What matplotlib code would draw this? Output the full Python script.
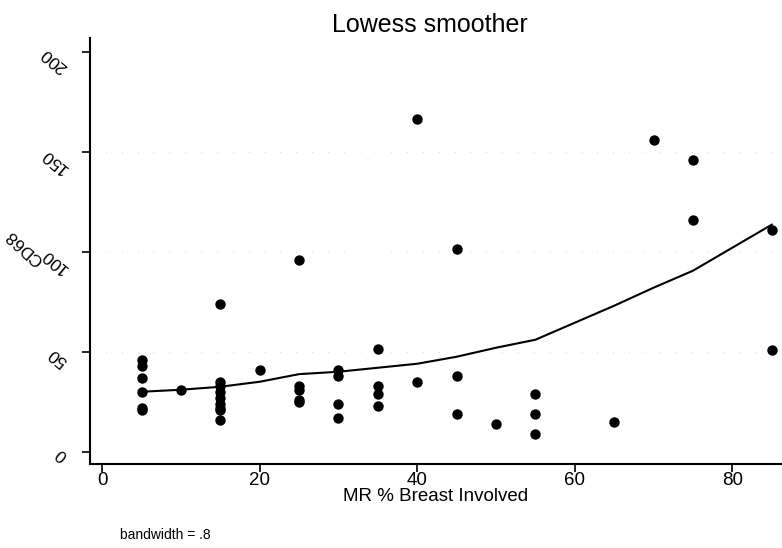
import matplotlib
matplotlib.use("Agg")
import matplotlib.pyplot as plt

plt.rcParams['font.family'] = ['Liberation Sans', 'DejaVu Sans']

# MR % breast involved vs CD68
mr_pct = [5, 5, 5, 5, 5, 5,
          10,
          15, 15, 15, 15, 15, 15, 15, 15, 15,
          20,
          25, 25, 25, 25, 25,
          30, 30, 30, 30,
          35, 35, 35, 35,
          40, 40,
          45, 45, 45,
          50,
          55, 55, 55,
          65,
          70,
          75, 75,
          85, 85]
cd68 = [46, 43, 37, 30, 22, 21,
        31,
        74, 35, 33, 30, 27, 24, 22, 21, 16,
        41,
        96, 33, 31, 26, 25,
        41, 38, 24, 17,
        51.5, 33, 29, 23,
        166.5, 35,
        101.5, 38, 19,
        14,
        29, 19, 9,
        15,
        156,
        146, 116,
        111, 51]

# lowess fitted values (bandwidth .8) at each distinct x
fit_x = [5, 10, 15, 20, 25, 30, 35, 40, 45, 50, 55, 65, 70, 75, 85]
fit_y = [30, 31, 32.5, 35, 38.8, 40, 42, 44, 47.5, 52, 56, 73, 82, 90.5, 113.5]

x_ticks = [0, 20, 40, 60, 80]
y_ticks = [0, 50, 100, 150, 200]

fig = plt.figure(figsize=(7.82, 5.48), dpi=100)
ax = fig.add_axes([0.1145, 0.1533, 0.8855, 0.7774])

# faint dotted reference lines like the scan
for yv in [50, 100, 150]:
    ax.axhline(yv, color='#c8c8c8', lw=0.6, linestyle=(0, (1, 18)), zorder=0)

ax.scatter(mr_pct, cd68, s=56, color='black', zorder=3, linewidths=0)
ax.plot(fit_x, fit_y, color='black', lw=1.5, zorder=2)

ax.set_xlim(-1.6, 86.3)
ax.set_ylim(-6.1, 206.8)
ax.set_xticks(x_ticks)
ax.set_yticks(y_ticks)
ax.set_yticklabels([str(v) for v in y_ticks], rotation=140, fontsize=12.5)
ax.tick_params(axis='x', labelsize=13.5, length=6, width=1.2, pad=0)
ax.tick_params(axis='y', length=6, width=1.2, pad=8)

for s in ['top', 'right']:
    ax.spines[s].set_visible(False)
for s in ['left', 'bottom']:
    ax.spines[s].set_linewidth(1.5)

ax.set_xlabel('MR % Breast Involved', fontsize=13.5, labelpad=-1)
ax.set_ylabel('CD68', fontsize=12.5, rotation=138)
ax.yaxis.set_label_coords(-0.086, 0.522)
ax.set_title('Lowess smoother', fontsize=18, pad=4, x=0.492)

fig.text(120 / 782, 1 - 535 / 548, 'bandwidth = .8', fontsize=10, va='center')

fig.savefig('out.png', dpi=100)
